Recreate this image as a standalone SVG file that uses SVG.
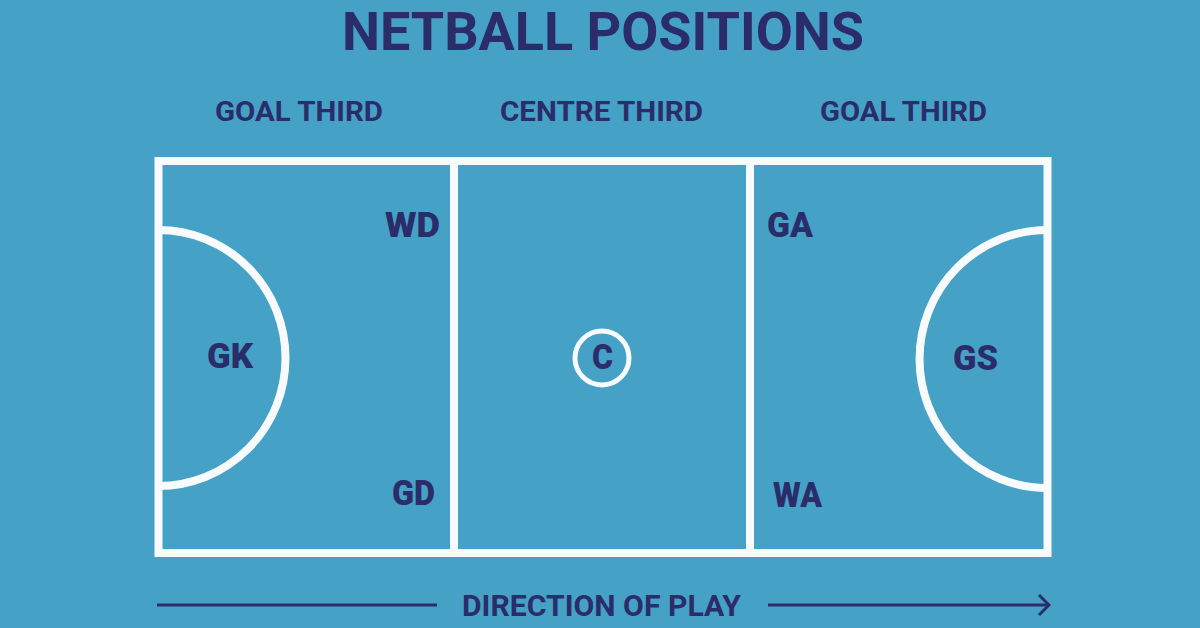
<svg xmlns="http://www.w3.org/2000/svg" width="1200" height="628" viewBox="0 0 1200 628">
<style>
.t{font-family:Roboto,"Liberation Sans",sans-serif;font-weight:bold;fill:#2a2d6a;text-anchor:middle}
.ln{fill:none;stroke:#f7fbfd;stroke-width:8}
.pos{font-size:35px;font-weight:900}
.hd{font-size:28px}
</style>
<defs>
<marker id="arr" viewBox="0 0 14 24" refX="12" refY="12" markerWidth="14" markerHeight="24" markerUnits="userSpaceOnUse" orient="auto">
<path d="M2,2 L12,12 L2,22" fill="none" stroke="#2a2d6a" stroke-width="3"/>
</marker>
</defs>
<rect width="1200" height="628" fill="#46a1c6"/>
<text class="t" x="603" y="50" font-size="53" textLength="522" lengthAdjust="spacingAndGlyphs">NETBALL POSITIONS</text>
<g id="headers">
<text class="t hd" x="299" y="121" textLength="168" lengthAdjust="spacingAndGlyphs">GOAL THIRD</text>
<text class="t hd" x="601.5" y="121" textLength="203" lengthAdjust="spacingAndGlyphs">CENTRE THIRD</text>
<text class="t hd" x="903.5" y="121" textLength="167" lengthAdjust="spacingAndGlyphs">GOAL THIRD</text>
</g>
<g id="court">
<rect class="ln" x="158.5" y="161" width="889" height="392"/>
<line class="ln" x1="454" y1="161" x2="454" y2="553"/>
<line class="ln" x1="750" y1="161" x2="750" y2="553"/>
<path class="ln" d="M158.5,230 A127,128 0 0 1 158.5,486"/>
<path class="ln" d="M1047.5,230 A128,129 0 0 0 1047.5,488"/>
<circle cx="602" cy="358" r="27" fill="none" stroke="#f7fbfd" stroke-width="5"/>
</g>
<g id="GK"><text class="t pos" x="230" y="368" textLength="46" lengthAdjust="spacingAndGlyphs">GK</text></g>
<g id="WD"><text class="t pos" x="412.5" y="237" textLength="55" lengthAdjust="spacingAndGlyphs">WD</text></g>
<g id="GD"><text class="t pos" x="413.5" y="505" textLength="43" lengthAdjust="spacingAndGlyphs">GD</text></g>
<g id="C"><text class="t pos" x="602.5" y="369" textLength="21" lengthAdjust="spacingAndGlyphs">C</text></g>
<g id="GA"><text class="t pos" x="790" y="237" textLength="46" lengthAdjust="spacingAndGlyphs">GA</text></g>
<g id="WA"><text class="t pos" x="797.5" y="507" textLength="49" lengthAdjust="spacingAndGlyphs">WA</text></g>
<g id="GS"><text class="t pos" x="975.5" y="370" textLength="45" lengthAdjust="spacingAndGlyphs">GS</text></g>
<g id="connectors">
<line x1="157" y1="605" x2="437" y2="605" stroke="#2a2d6a" stroke-width="3"/>
<line x1="768" y1="605" x2="1049" y2="605" stroke="#2a2d6a" stroke-width="3" marker-end="url(#arr)"/>
</g>
<text class="t" x="601.5" y="616" font-size="29.5" textLength="279" lengthAdjust="spacingAndGlyphs">DIRECTION OF PLAY</text>
</svg>
